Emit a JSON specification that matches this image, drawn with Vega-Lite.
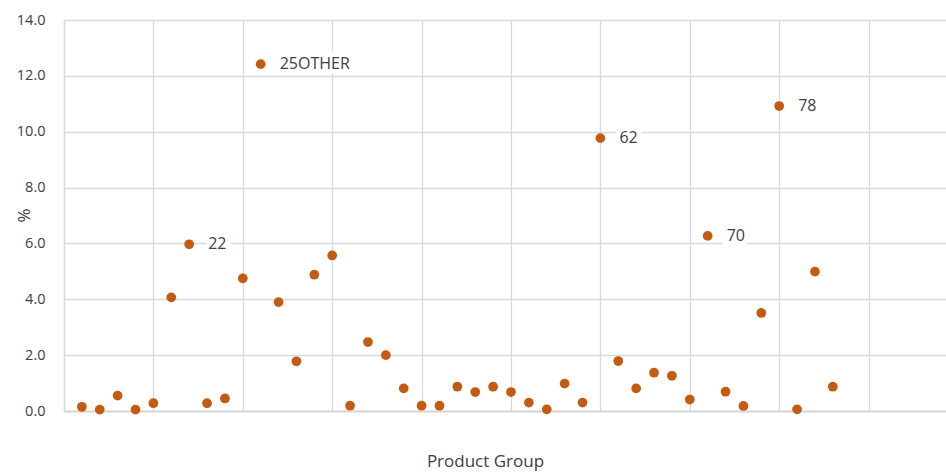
{
  "$schema": "https://vega.github.io/schema/vega-lite/v6.json",
  "width": 882,
  "height": 391,
  "autosize": {"type": "none"},
  "padding": {"left": 64, "top": 20, "right": 0, "bottom": 61},
  "background": "white",
  "config": {
    "view": {"stroke": null},
    "font": "Open Sans"
  },
  "data": {
    "values": [
      {"i": 1, "pct": 0.15, "label": null},
      {"i": 2, "pct": 0.05, "label": null},
      {"i": 3, "pct": 0.55, "label": null},
      {"i": 4, "pct": 0.05, "label": null},
      {"i": 5, "pct": 0.28, "label": null},
      {"i": 6, "pct": 4.07, "label": null},
      {"i": 7, "pct": 5.97, "label": "22"},
      {"i": 8, "pct": 0.28, "label": null},
      {"i": 9, "pct": 0.45, "label": null},
      {"i": 10, "pct": 4.75, "label": null},
      {"i": 11, "pct": 12.42, "label": "25OTHER"},
      {"i": 12, "pct": 3.9, "label": null},
      {"i": 13, "pct": 1.78, "label": null},
      {"i": 14, "pct": 4.88, "label": null},
      {"i": 15, "pct": 5.57, "label": null},
      {"i": 16, "pct": 0.19, "label": null},
      {"i": 17, "pct": 2.47, "label": null},
      {"i": 18, "pct": 2.0, "label": null},
      {"i": 19, "pct": 0.81, "label": null},
      {"i": 20, "pct": 0.19, "label": null},
      {"i": 21, "pct": 0.19, "label": null},
      {"i": 22, "pct": 0.87, "label": null},
      {"i": 23, "pct": 0.68, "label": null},
      {"i": 24, "pct": 0.87, "label": null},
      {"i": 25, "pct": 0.68, "label": null},
      {"i": 26, "pct": 0.3, "label": null},
      {"i": 27, "pct": 0.06, "label": null},
      {"i": 28, "pct": 0.98, "label": null},
      {"i": 29, "pct": 0.3, "label": null},
      {"i": 30, "pct": 9.77, "label": "62"},
      {"i": 31, "pct": 1.79, "label": null},
      {"i": 32, "pct": 0.81, "label": null},
      {"i": 33, "pct": 1.37, "label": null},
      {"i": 34, "pct": 1.26, "label": null},
      {"i": 35, "pct": 0.41, "label": null},
      {"i": 36, "pct": 6.27, "label": "70"},
      {"i": 37, "pct": 0.69, "label": null},
      {"i": 38, "pct": 0.18, "label": null},
      {"i": 39, "pct": 3.51, "label": null},
      {"i": 40, "pct": 10.92, "label": "78"},
      {"i": 41, "pct": 0.06, "label": null},
      {"i": 42, "pct": 4.99, "label": null},
      {"i": 43, "pct": 0.87, "label": null}
    ]
  },
  "encoding": {
    "x": {
      "field": "i",
      "type": "quantitative",
      "scale": {"domain": [0, 49.33], "nice": false, "zero": false},
      "axis": {
        "values": [0, 5, 10, 15, 20, 25, 30, 35, 40, 45],
        "grid": true,
        "gridColor": "#d9d9d9",
        "gridWidth": 1.3,
        "labels": false,
        "ticks": false,
        "domain": true,
        "domainColor": "#d0d0d0",
        "domainWidth": 1.3,
        "title": "Product Group",
        "titleFont": "Open Sans",
        "titleFontSize": 17,
        "titleFontWeight": "normal",
        "titleColor": "#404040",
        "titleX": 421,
        "titleY": 50,
        "titleBaseline": "middle",
        "titleAnchor": "middle",
        "titleAlign": "center"
      }
    },
    "y": {
      "field": "pct",
      "type": "quantitative",
      "scale": {"domain": [0, 14], "nice": false},
      "axis": {
        "values": [0, 2, 4, 6, 8, 10, 12, 14],
        "format": ".1f",
        "grid": true,
        "gridColor": "#d9d9d9",
        "gridWidth": 1.3,
        "ticks": false,
        "domain": true,
        "domainColor": "#d9d9d9",
        "domainWidth": 1.3,
        "labelPadding": 19,
        "labelFont": "Open Sans",
        "labelFontSize": 14.5,
        "labelColor": "#404040",
        "title": "%",
        "titleFont": "Open Sans",
        "titleFontSize": 17,
        "titleFontWeight": "normal",
        "titleColor": "#404040",
        "titleX": -40,
        "titleY": 195,
        "titleAngle": 270,
        "titleAlign": "center",
        "titleBaseline": "middle"
      }
    }
  },
  "layer": [
    {
      "mark": {"type": "circle", "size": 95, "color": "#C55A11", "opacity": 1}
    },
    {
      "transform": [{"filter": "datum.label != null"}],
      "mark": {
        "type": "text",
        "align": "left",
        "baseline": "middle",
        "dx": 19,
        "fontSize": 16,
        "font": "Open Sans",
        "stroke": "white",
        "strokeWidth": 10,
        "strokeJoin": "miter",
        "fill": "white"
      },
      "encoding": {"text": {"field": "label"}}
    },
    {
      "transform": [{"filter": "datum.label != null"}],
      "mark": {
        "type": "text",
        "align": "left",
        "baseline": "middle",
        "dx": 19,
        "fontSize": 16,
        "font": "Open Sans",
        "color": "#404040"
      },
      "encoding": {"text": {"field": "label"}}
    }
  ]
}
